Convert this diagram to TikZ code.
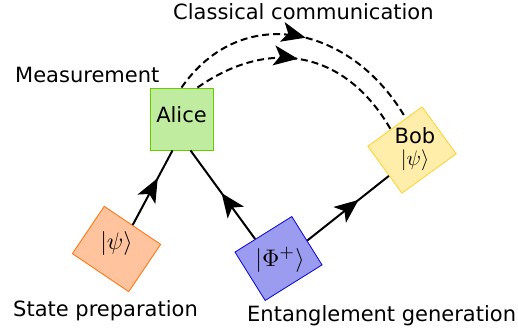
\documentclass[tikz,border=0pt]{standalone}
\usepackage[no-math]{fontspec}
\setmainfont{DejaVu Sans}
\usetikzlibrary{arrows.meta,calc,decorations.markings}

\definecolor{alicefill}{RGB}{191,236,159}
\definecolor{alicedraw}{RGB}{102,204,0}
\definecolor{prepfill}{RGB}{255,196,158}
\definecolor{prepdraw}{RGB}{255,120,20}
\definecolor{pairfill}{RGB}{155,155,240}
\definecolor{pairdraw}{RGB}{20,20,210}
\definecolor{bobfill}{RGB}{255,238,170}
\definecolor{bobdraw}{RGB}{255,212,60}

\begin{document}
\begin{tikzpicture}[x=1pt,y=1pt,font=\fontsize{21}{23}\selectfont,
  box/.style={draw,line width=0.9pt,inner sep=0pt,minimum width=67pt,minimum height=57pt},
  ket/.style={font=\fontsize{10}{10.5}\selectfont,inner sep=0pt,scale=#1},
  link/.style={line width=2pt},
  midarrow/.style={postaction={decorate},decoration={markings,
    mark=at position #1 with {\arrow{Stealth[length=24pt,width=20pt,inset=6pt]}}}},
  caption/.style={anchor=base west,inner sep=0pt}]

\useasboundingbox (0,0) rectangle (518,333);

% draw the boxes
\node[box,draw=alicedraw,fill=alicefill,minimum width=63pt,minimum height=62pt] (alice) at (181.5,214) {};
\node[box,draw=prepdraw,fill=prepfill,minimum width=68pt,rotate=-34] (prep) at (116.5,84) {};
\node[box,draw=pairdraw,fill=pairfill,rotate=32] (pair) at (278.5,74.5) {};
\node[box,draw=bobdraw,fill=bobfill,minimum height=58pt,rotate=36] (bob) at (412,183) {};

% box text stays upright
\node (alicetxt) at ($(alice)+(0,4)$) {Alice};
\node[ket=2.4] (preptxt) at ($(prep)+(0,5.5)$) {$|\psi\rangle$};
\node[ket=2.4] (pairtxt) at ($(pair)+(1.5,-1.5)$) {$|\Phi^+\rangle$};
\node[ket=2.1,align=center] (bobtxt) at ($(bob)+(3,1)$) {Bob\\$|\psi\rangle$};

% quantum links
\draw[link,midarrow=0.63] (prep.north) -- ([xshift=-9pt]alice.south);
\draw[link,midarrow=0.52] ($(pair.north)!0.28!(pair.north west)$) -- ([xshift=9pt]alice.south);
\draw[link,midarrow=0.63] (pair.east) -- ($(bob.west)!0.25!(bob.south west)$);

% classical bits from alice to bob
\draw[link,dash pattern=on 7pt off 4pt,midarrow=0.52] (alice.north)
  to[out=55,in=120,looseness=1.2] ($(bob.north)!0.4!(bob.north east)$);
\draw[link,dash pattern=on 7pt off 4pt,midarrow=0.47] ($(alice.north)!0.5!(alice.north east)$)
  to[out=35,in=120,looseness=1.16] ($(bob.north)!0.15!(bob.north west)$);

% captions
\node[caption] (cctxt) at (173,313) {Classical communication};
\node[caption] (meastxt) at (15,251) {Measurement};
\node[caption] (statetxt) at (13,17) {State preparation};
\node[caption] (enttxt) at (247,12) {Entanglement generation};

\end{tikzpicture}
\end{document}
